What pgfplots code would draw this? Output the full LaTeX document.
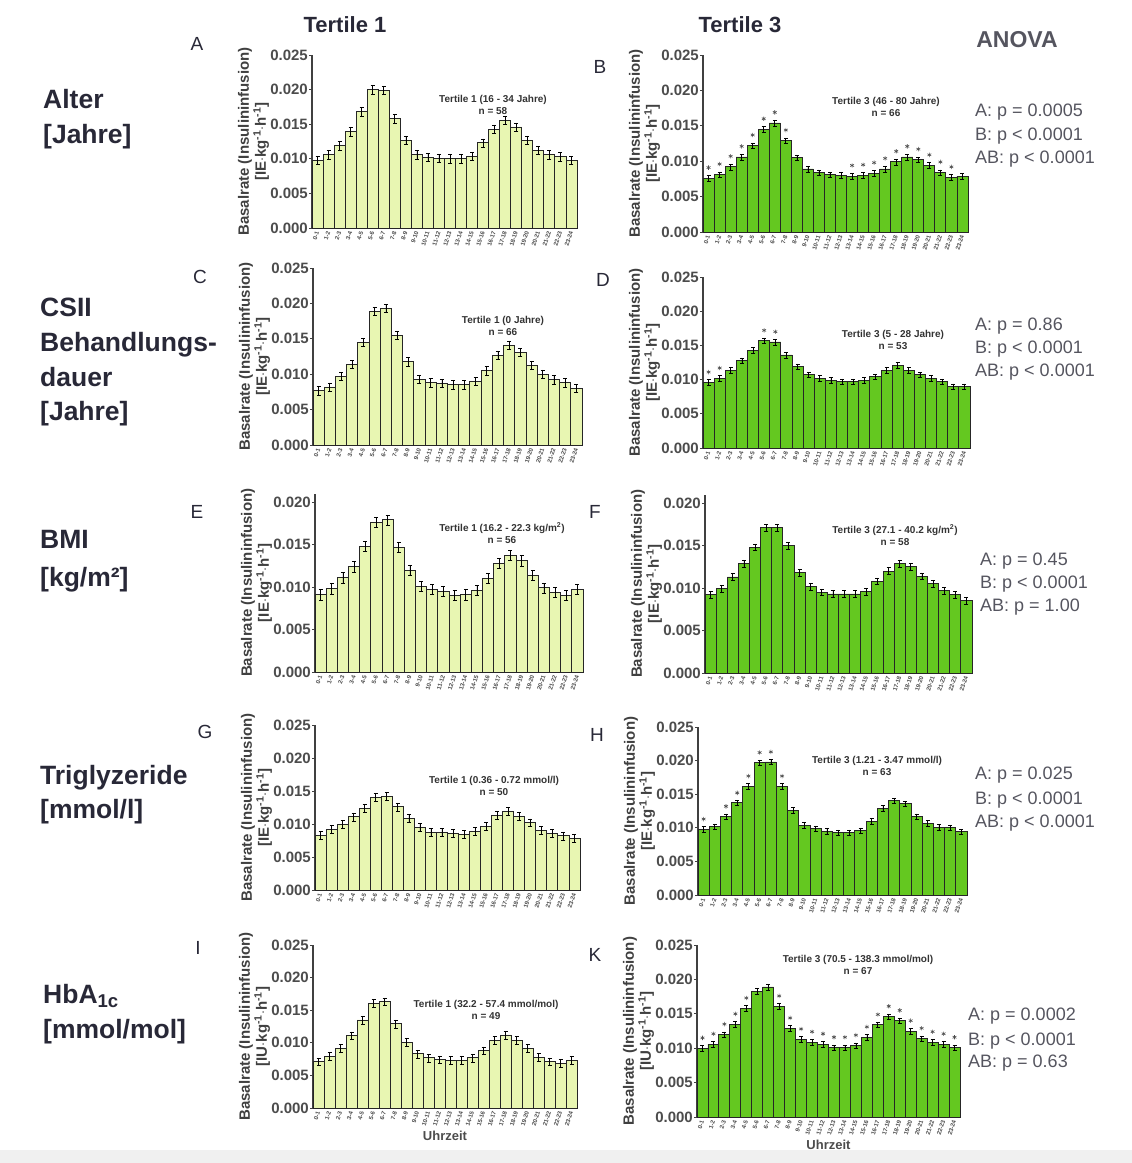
\documentclass[border=0pt]{standalone}
\usepackage{fontspec}
\setmainfont{Liberation Sans}
\usepackage{pgfplots}
\pgfplotsset{compat=1.18}
\definecolor{lightg}{RGB}{232,246,178}
\definecolor{darkg}{RGB}{100,200,32}
\definecolor{txt}{RGB}{40,40,55}
\definecolor{anova}{RGB}{85,85,95}
\pgfplotsset{
 panel/.style={
   scale only axis, anchor=south west, clip=false,
   xmin=-0.5, xmax=23.5, ymin=0, ymax=0.025,
   axis x line*=bottom, axis y line*=left,
   x axis line style={line width=2.6pt,-, black!85},
   y axis line style={line width=1.6pt,-, black!75},
   xtick={0,...,23},
   xticklabels={0-1,1-2,2-3,3-4,4-5,5-6,6-7,7-8,8-9,9-10,10-11,11-12,12-13,13-14,14-15,15-16,16-17,17-18,18-19,19-20,20-21,21-22,22-23,23-24},
   x tick label style={rotate=72, anchor=east, font=\fontsize{6}{6}\selectfont\bfseries, inner sep=0.5pt, text=black!70},
   major x tick style={draw=none},
   ytick={0,0.005,0.01,0.015,0.02,0.025},
   scaled y ticks=false,
   yticklabel style={/pgf/number format/.cd, fixed, fixed zerofill, precision=3, assume math mode=true, /tikz/.cd, font=\fontsize{15}{15}\selectfont\bfseries, text=black!70, inner sep=1pt},
   ytick style={line width=1pt, black!75},
   tick align=outside, major tick length=3pt,
   ylabel style={align=center, font=\fontsize{15}{17}\selectfont\bfseries, text=black!75, inner sep=0pt},
   ylabel={Basalrate (Insulininfusion)\\{[}IE$\cdot$kg\textsuperscript{-1}$\cdot$h\textsuperscript{-1}{]}},
 },
 t1/.style={ybar, bar width=1, bar shift=0pt, fill=lightg, draw=black!85, line width=0.9pt,
   error bars/.cd, y dir=both, y fixed=0.0006, error bar style={line width=0.7pt, black}},
 t3/.style={ybar, bar width=1, bar shift=0pt, fill=darkg, draw=black!85, line width=0.9pt,
   error bars/.cd, y dir=both, y fixed=0.0004, error bar style={line width=0.7pt, black}},
 stars/.style={only marks, mark=asterisk, mark size=2.2pt, mark options={line width=0.6pt}, black!70},
}
\newcommand{\ann}[1]{\fontsize{10}{12}\selectfont\bfseries #1}
\begin{document}
\begin{tikzpicture}
\useasboundingbox (0pt,0pt) rectangle (1132pt,-1163pt);
\fill[black!6] (0pt,-1150pt) rectangle (1132pt,-1163pt);
% ---------- headers
\node[font=\fontsize{22}{22}\selectfont\bfseries, text=txt] at (345pt,-25pt) {Tertile 1};
\node[font=\fontsize{22}{22}\selectfont\bfseries, text=txt] at (740pt,-25pt) {Tertile 3};
\node[font=\fontsize{23}{23}\selectfont\bfseries, text=anova] at (1017pt,-40pt) {ANOVA};
% ---------- row labels
\begin{scope}[every node/.style={anchor=base west, inner sep=0pt, font=\fontsize{26.5}{26.5}\selectfont\bfseries, text=txt}]
\node at (43pt,-108pt) {Alter};
\node at (43pt,-143pt) {[Jahre]};
\node at (40pt,-316pt) {CSII};
\node at (40pt,-351pt) {Behandlungs-};
\node at (40pt,-386pt) {dauer};
\node at (40pt,-420pt) {[Jahre]};
\node at (40pt,-548pt) {BMI};
\node at (40pt,-586pt) {[kg/m²]};
\node at (40pt,-784pt) {Triglyzeride};
\node at (40pt,-818pt) {[mmol/l]};
\node at (43pt,-1003pt) {HbA\textsubscript{1c}};
\node at (43pt,-1038pt) {[mmol/mol]};
\end{scope}
% ---------- ANOVA
\begin{scope}[every node/.style={anchor=base west, inner sep=0pt, font=\fontsize{18}{18}\selectfont, text=anova}]
\node at (975pt,-116pt) {A: p = 0.0005};
\node at (975pt,-140pt) {B: p < 0.0001};
\node at (975pt,-163pt) {AB: p < 0.0001};
\node at (975pt,-330pt) {A: p = 0.86};
\node at (975pt,-353pt) {B: p < 0.0001};
\node at (975pt,-376pt) {AB: p < 0.0001};
\node at (980pt,-565pt) {A: p = 0.45};
\node at (980pt,-588pt) {B: p < 0.0001};
\node at (980pt,-611pt) {AB: p = 1.00};
\node at (975pt,-779pt) {A: p = 0.025};
\node at (975pt,-804pt) {B: p < 0.0001};
\node at (975pt,-827pt) {AB: p < 0.0001};
\node at (968pt,-1020pt) {A: p = 0.0002};
\node at (968pt,-1045pt) {B: p < 0.0001};
\node at (968pt,-1067pt) {AB: p = 0.63};
\end{scope}
% ---------- panel letters
\begin{scope}[every node/.style={font=\fontsize{19}{19}\selectfont, text=txt}]
\node at (197pt,-44pt) {A};
\node at (600pt,-67pt) {B};
\node at (200pt,-277pt) {C};
\node at (603pt,-280pt) {D};
\node at (197pt,-512pt) {E};
\node at (595pt,-512pt) {F};
\node at (205pt,-732pt) {G};
\node at (597pt,-735pt) {H};
\node at (198pt,-948pt) {I};
\node at (595pt,-955pt) {K};
\end{scope}
% ================= A
\begin{axis}[panel, at={(312pt,-228pt)}, width=265pt, height=173pt]
\addplot[t1] coordinates {(0,0.0098)(1,0.0106)(2,0.0119)(3,0.0139)(4,0.0168)(5,0.0200)(6,0.0199)(7,0.0158)(8,0.0127)(9,0.0106)(10,0.0102)(11,0.0101)(12,0.0100)(13,0.0100)(14,0.0104)(15,0.0123)(16,0.0143)(17,0.0156)(18,0.0146)(19,0.0127)(20,0.0112)(21,0.0106)(22,0.0103)(23,0.0098)};
\end{axis}
% ================= B
\begin{axis}[panel, at={(703pt,-232pt)}, width=265pt, height=177pt]
\addplot[t3] coordinates {(0,0.0076)(1,0.0081)(2,0.0092)(3,0.0106)(4,0.0122)(5,0.0145)(6,0.0154)(7,0.0129)(8,0.0105)(9,0.0089)(10,0.0084)(11,0.0081)(12,0.0080)(13,0.0079)(14,0.0080)(15,0.0083)(16,0.0089)(17,0.0099)(18,0.0106)(19,0.0102)(20,0.0094)(21,0.0084)(22,0.0077)(23,0.0079)};
\addplot[stars] coordinates {(0,0.0091)(1,0.0096)(2,0.0107)(3,0.0121)(4,0.0137)(5,0.0160)(6,0.0169)(7,0.0144)(13,0.0094)(14,0.0095)(15,0.0098)(16,0.0104)(17,0.0114)(18,0.0121)(19,0.0117)(20,0.0109)(21,0.0099)(22,0.0092)};
\end{axis}
% ================= C
\begin{axis}[panel, at={(313pt,-445pt)}, width=269pt, height=177pt]
\addplot[t1] coordinates {(0,0.0077)(1,0.0082)(2,0.0097)(3,0.0114)(4,0.0145)(5,0.0189)(6,0.0193)(7,0.0155)(8,0.0118)(9,0.0093)(10,0.0088)(11,0.0087)(12,0.0085)(13,0.0085)(14,0.0090)(15,0.0105)(16,0.0127)(17,0.0141)(18,0.0131)(19,0.0113)(20,0.0100)(21,0.0092)(22,0.0088)(23,0.0080)};
\end{axis}
% ================= D
\begin{axis}[panel, at={(703pt,-448pt)}, width=267pt, height=171pt]
\addplot[t3] coordinates {(0,0.0096)(1,0.0102)(2,0.0114)(3,0.0128)(4,0.0143)(5,0.0157)(6,0.0155)(7,0.0136)(8,0.0119)(9,0.0107)(10,0.0102)(11,0.0099)(12,0.0097)(13,0.0097)(14,0.0099)(15,0.0104)(16,0.0114)(17,0.0121)(18,0.0114)(19,0.0107)(20,0.0102)(21,0.0097)(22,0.0090)(23,0.0090)};
\addplot[stars] coordinates {(0,0.0111)(1,0.0117)(5,0.0172)(6,0.0170)};
\end{axis}
% ================= E
\begin{axis}[panel, at={(315pt,-672pt)}, width=268pt, height=178.5pt, ymax=0.021, ytick={0,0.005,0.01,0.015,0.02}]
\addplot[t1] coordinates {(0,0.0091)(1,0.0098)(2,0.0111)(3,0.0124)(4,0.0148)(5,0.0176)(6,0.0179)(7,0.0147)(8,0.0120)(9,0.0101)(10,0.0097)(11,0.0095)(12,0.0090)(13,0.0091)(14,0.0096)(15,0.0110)(16,0.0128)(17,0.0137)(18,0.0131)(19,0.0114)(20,0.0099)(21,0.0094)(22,0.0090)(23,0.0097)};
\end{axis}
% ================= F
\begin{axis}[panel, at={(705pt,-673pt)}, width=267pt, height=178.5pt, ymax=0.021, ytick={0,0.005,0.01,0.015,0.02}]
\addplot[t3] coordinates {(0,0.0092)(1,0.0099)(2,0.0113)(3,0.0129)(4,0.0148)(5,0.0171)(6,0.0171)(7,0.0150)(8,0.0118)(9,0.0102)(10,0.0095)(11,0.0093)(12,0.0093)(13,0.0093)(14,0.0096)(15,0.0108)(16,0.0120)(17,0.0129)(18,0.0125)(19,0.0114)(20,0.0105)(21,0.0097)(22,0.0092)(23,0.0085)};
\end{axis}
% ================= G
\begin{axis}[panel, at={(315pt,-890pt)}, width=265pt, height=165pt]
\addplot[t1] coordinates {(0,0.0083)(1,0.0092)(2,0.0100)(3,0.0111)(4,0.0124)(5,0.0140)(6,0.0142)(7,0.0126)(8,0.0109)(9,0.0095)(10,0.0087)(11,0.0087)(12,0.0086)(13,0.0084)(14,0.0089)(15,0.0096)(16,0.0113)(17,0.0119)(18,0.0112)(19,0.0102)(20,0.0090)(21,0.0086)(22,0.0082)(23,0.0078)};
\end{axis}
% ================= H
\begin{axis}[panel, at={(698pt,-895pt)}, width=269pt, height=168pt]
\addplot[t3] coordinates {(0,0.0098)(1,0.0102)(2,0.0117)(3,0.0137)(4,0.0162)(5,0.0197)(6,0.0198)(7,0.0162)(8,0.0126)(9,0.0104)(10,0.0099)(11,0.0095)(12,0.0093)(13,0.0093)(14,0.0096)(15,0.0110)(16,0.0129)(17,0.0140)(18,0.0136)(19,0.0117)(20,0.0107)(21,0.0101)(22,0.0100)(23,0.0094)};
\addplot[stars] coordinates {(0,0.0113)(2,0.0132)(3,0.0152)(4,0.0177)(5,0.0212)(6,0.0213)(7,0.0177)};
\end{axis}
% ================= I
\begin{axis}[panel, at={(313pt,-1108pt)}, width=264pt, height=163pt,
  ylabel={Basalrate (Insulininfusion)\\{[}IU$\cdot$kg\textsuperscript{-1}$\cdot$h\textsuperscript{-1}{]}},
  xlabel={Uhrzeit}, xlabel style={font=\fontsize{13}{13}\selectfont\bfseries, text=black!70}]
\addplot[t1] coordinates {(0,0.0071)(1,0.0079)(2,0.0092)(3,0.0111)(4,0.0135)(5,0.0161)(6,0.0163)(7,0.0129)(8,0.0101)(9,0.0083)(10,0.0077)(11,0.0074)(12,0.0073)(13,0.0073)(14,0.0077)(15,0.0088)(16,0.0104)(17,0.0112)(18,0.0104)(19,0.0092)(20,0.0078)(21,0.0071)(22,0.0069)(23,0.0073)};
\end{axis}
% ================= K
\begin{axis}[panel, at={(697pt,-1117pt)}, width=263pt, height=172pt,
  ylabel={Basalrate (Insulininfusion)\\{[}IU$\cdot$kg\textsuperscript{-1}$\cdot$h\textsuperscript{-1}{]}},
  xlabel={Uhrzeit}, xlabel style={font=\fontsize{13}{13}\selectfont\bfseries, text=black!70}]
\addplot[t3] coordinates {(0,0.0100)(1,0.0106)(2,0.0120)(3,0.0135)(4,0.0158)(5,0.0183)(6,0.0189)(7,0.0161)(8,0.0129)(9,0.0113)(10,0.0109)(11,0.0106)(12,0.0101)(13,0.0101)(14,0.0104)(15,0.0116)(16,0.0134)(17,0.0146)(18,0.0140)(19,0.0125)(20,0.0114)(21,0.0109)(22,0.0106)(23,0.0101)};
\addplot[stars] coordinates {(0,0.0115)(1,0.0121)(2,0.0135)(3,0.0150)(4,0.0173)(7,0.0176)(8,0.0144)(9,0.0128)(10,0.0124)(11,0.0121)(12,0.0116)(13,0.0116)(14,0.0119)(15,0.0131)(16,0.0149)(17,0.0161)(18,0.0155)(19,0.0140)(20,0.0129)(21,0.0124)(22,0.0121)(23,0.0116)};
\end{axis}
% ---------- annotations
\begin{scope}[every node/.style={align=center, text=black!80, font=\ann{}}]
\node at (493pt,-105pt) {Tertile 1 (16 - 34 Jahre)\\n = 58};
\node at (886pt,-107pt) {Tertile 3 (46 - 80 Jahre)\\n = 66};
\node at (503pt,-326pt) {Tertile 1 (0 Jahre)\\n = 66};
\node at (893pt,-340pt) {Tertile 3 (5 - 28 Jahre)\\n = 53};
\node at (502pt,-533pt) {Tertile 1 (16.2 - 22.3 kg/m\textsuperscript{2})\\n = 56};
\node at (895pt,-535pt) {Tertile 3 (27.1 - 40.2 kg/m\textsuperscript{2})\\n = 58};
\node at (494pt,-786pt) {Tertile 1 (0.36 - 0.72 mmol/l)\\n = 50};
\node at (877pt,-766pt) {Tertile 3 (1.21 - 3.47 mmol/l)\\n = 63};
\node at (486pt,-1010pt) {Tertile 1 (32.2 - 57.4 mmol/mol)\\n = 49};
\node at (858pt,-965pt) {Tertile 3 (70.5 - 138.3 mmol/mol)\\n = 67};
\end{scope}
\end{tikzpicture}
\end{document}
